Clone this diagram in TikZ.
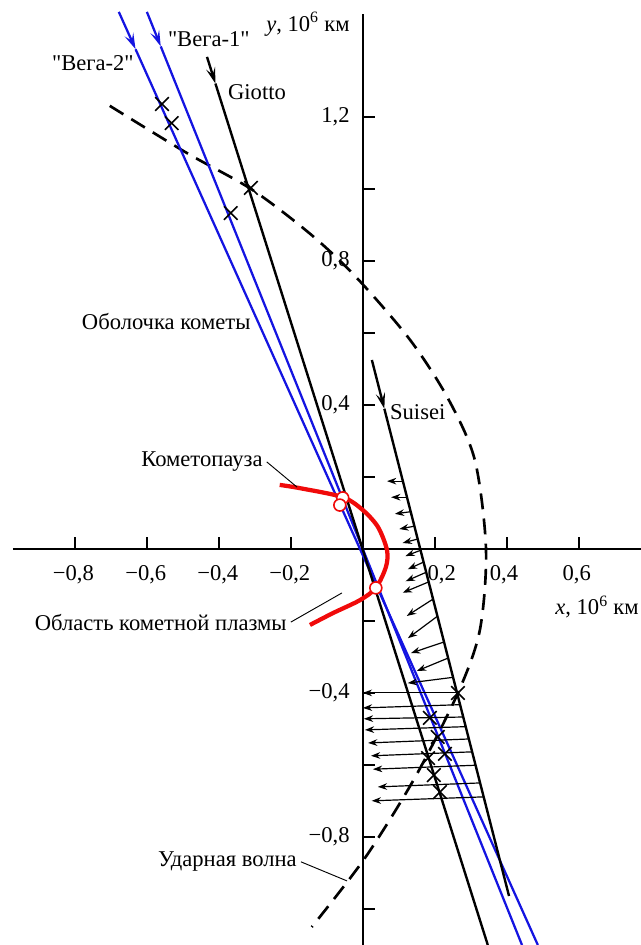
\documentclass[tikz,border=0pt]{standalone}
\usepackage{fontspec}
\setmainfont{Liberation Serif}
\usepackage{tikz}
\usetikzlibrary{arrows.meta, shapes.misc, calc}
\definecolor{myblue}{RGB}{20,20,225}
\definecolor{myred}{RGB}{240,10,10}
\tikzset{
  axis/.style={line width=1.2pt, color=black},
  traj/.style={line width=1.8pt, color=black},
  vega/.style={line width=1.7pt, color=myblue},
  headarrow/.style={-{Stealth[length=12pt, width=7pt, inset=5pt]}},
  shell/.style={line width=2pt, dash pattern=on 12pt off 7pt},
  pause/.style={line width=3.2pt, color=myred},
  probe/.style={circle, draw=myred, fill=white, line width=1.2pt,
    minimum size=9pt, inner sep=0pt},
  crossmark/.style={cross out, draw=black, line width=1.2pt,
    minimum size=9pt, inner sep=0pt},
  flow/.style={-{Stealth[length=7pt, width=5pt]}, line width=0.9pt},
  leader/.style={line width=0.7pt},
  txt/.style={inner sep=0pt},
  leadtxt/.style={inner sep=3pt, anchor=east}
}

\begin{document}
\begin{tikzpicture}[x=9.525cm, y=9.525cm, font=\fontsize{17}{20}\selectfont]
  \useasboundingbox (-1.008,-1.1) rectangle (0.772,1.525);
  % Axes
  \coordinate (xa0) at (-0.972,0);
  \coordinate (xa1) at (0.772,0);
  \coordinate (ya0) at (0,-1.1);
  \coordinate (ya1) at (0,1.486);
  \draw[axis] (xa0) -- (xa1);
  \draw[axis] (ya0) -- (ya1);
  \foreach \x in {-0.8,-0.6,-0.4,-0.2,0.2,0.4,0.6}
    \draw[axis] (\x,0) -- (\x,0.033);
  \foreach \y in {-1,-0.8,-0.6,-0.4,-0.2,0.2,0.4,0.6,0.8,1,1.2}
    \draw[axis] (0,\y) -- (0.033,\y);
  % Tick labels
  \node[txt] (xm8) at (-0.804,-0.072) {−0,8};
  \node[txt] (xm6) at (-0.603,-0.072) {−0,6};
  \node[txt] (xm4) at (-0.403,-0.072) {−0,4};
  \node[txt] (xm2) at (-0.203,-0.072) {−0,2};
  \node[txt] (xp2) at (0.219,-0.072) {0,2};
  \node[txt] (xp4) at (0.392,-0.072) {0,4};
  \node[txt] (xp6) at (0.594,-0.072) {0,6};
  \node[txt, anchor=east] (yp12) at (-0.036,1.2) {1,2};
  \node[txt, anchor=east] (yp8) at (-0.036,0.8) {0,8};
  \node[txt, anchor=east] (yp4) at (-0.036,0.4) {0,4};
  \node[txt, anchor=east] (ym4) at (-0.036,-0.4) {−0,4};
  \node[txt, anchor=east] (ym8) at (-0.036,-0.8) {−0,8};
  \node[txt, anchor=east] (ylbl) at (-0.036,1.458) {\textit{y}, 10\textsuperscript{6} км};
  \node[txt, anchor=east] (xlbl) at (0.767,-0.161) {\textit{x}, 10\textsuperscript{6} км};
  % Shell of the comet
  \draw[shell] plot[smooth] coordinates {(-0.703,1.231) (-0.489,1.100)
    (-0.306,0.997) (-0.140,0.870) (-0.014,0.750) (0.131,0.581) (0.236,0.419)
    (0.311,0.247) (0.342,0.0) (0.325,-0.225) (0.264,-0.400) (0.144,-0.636)
    (0.006,-0.858) (-0.142,-1.050)};
  % Trajectories
  \coordinate (v2s) at (-0.678,1.492);
  \coordinate (v2e) at (0.486,-1.1);
  \coordinate (v1s) at (-0.600,1.492);
  \coordinate (v1e) at (0.442,-1.1);
  \coordinate (gs) at (-0.433,1.367);
  \coordinate (ge) at (0.347,-1.1);
  \coordinate (ss) at (0.025,0.525);
  \coordinate (se) at (0.406,-0.964);
  \coordinate (v2a) at ($(v2s)!0.040!(v2e)$);
  \coordinate (v1a) at ($(v1s)!0.037!(v1e)$);
  \coordinate (ga) at ($(gs)!0.030!(ge)$);
  \coordinate (sa) at ($(ss)!0.091!(se)$);
  \draw[vega, headarrow] (v2s) -- (v2a);
  \draw[vega] (v2a) -- (v2e);
  \draw[vega, headarrow] (v1s) -- (v1a);
  \draw[vega] (v1a) -- (v1e);
  \draw[traj, headarrow] (gs) -- (ga);
  \draw[traj] (ga) -- (ge);
  \draw[traj, headarrow] (ss) -- (sa);
  \draw[traj] (sa) -- (se);
  % Field along Suisei
  \foreach \p/\dx/\dy in {0.226/-0.044/0, 0.256/-0.044/0, 0.283/-0.044/-0.006,
      0.310/-0.042/-0.008, 0.334/-0.042/-0.011, 0.355/-0.042/-0.016,
      0.377/-0.044/-0.020, 0.396/-0.057/-0.025, 0.414/-0.072/-0.030,
      0.446/-0.073/-0.047, 0.478/-0.082/-0.061, 0.526/-0.092/-0.031,
      0.556/-0.087/-0.036, 0.592/-0.126/-0.016, 0.621/-0.262/0,
      0.643/-0.270/-0.009, 0.666/-0.276/-0.005, 0.684/-0.280/-0.009,
      0.707/-0.280/-0.011, 0.731/-0.281/-0.011, 0.756/-0.285/-0.011,
      0.789/-0.284/-0.011, 0.815/-0.311/-0.011}
    \draw[flow] ($(ss)!\p!(se)$) -- ++(\dx,\dy);
  % Cometopause
  \draw[pause] plot[smooth] coordinates {(-0.231,0.178) (-0.175,0.169)
    (-0.056,0.144) (0.0,0.108) (0.042,0.061) (0.067,-0.003) (0.064,-0.05)
    (0.036,-0.108) (-0.008,-0.142) (-0.083,-0.178) (-0.147,-0.211)};
  \node[probe] (pv1) at (-0.056,0.142) {};
  \node[probe] (pv2) at (-0.064,0.122) {};
  \node[probe] (pv3) at (0.036,-0.108) {};
  % Crossings
  \node[crossmark] (k1) at (-0.558,1.236) {};
  \node[crossmark] (k2) at (-0.531,1.183) {};
  \node[crossmark] (k3) at (-0.367,0.933) {};
  \node[crossmark] (k4) at (-0.311,1.003) {};
  \node[crossmark] (k5) at (0.264,-0.400) {};
  \node[crossmark] (k6) at (0.186,-0.469) {};
  \node[crossmark] (k7) at (0.208,-0.522) {};
  \node[crossmark] (k8) at (0.181,-0.581) {};
  \node[crossmark] (k9) at (0.228,-0.569) {};
  \node[crossmark] (k10) at (0.197,-0.628) {};
  \node[crossmark] (k11) at (0.214,-0.675) {};
  % Labels
  \node[txt, anchor=west] (v1lbl) at (-0.542,1.417) {\textquotedbl Вега-1\textquotedbl};
  \node[txt, anchor=west] (v2lbl) at (-0.864,1.350) {\textquotedbl Вега-2\textquotedbl};
  \node[txt, anchor=west] (glbl) at (-0.375,1.269) {Giotto};
  \node[txt, anchor=west] (slbl) at (0.075,0.381) {Suisei};
  \node[txt, anchor=west] (shlbl) at (-0.781,0.631) {Оболочка кометы};
  \node[leadtxt] (kplbl) at (-0.267,0.242) {Кометопауза};
  \node[leadtxt] (pllbl) at (-0.200,-0.203) {Область кометной плазмы};
  \node[leadtxt] (swlbl) at (-0.172,-0.869) {Ударная волна};
  \coordinate (kpend) at (-0.183,0.172);
  \coordinate (plend) at (-0.058,-0.122);
  \coordinate (swend) at (-0.044,-0.922);
  \draw[leader] (kplbl.east) -- (kpend);
  \draw[leader] (pllbl.east) -- (plend);
  \draw[leader] (swlbl.east) -- (swend);
\end{tikzpicture}
\end{document}
